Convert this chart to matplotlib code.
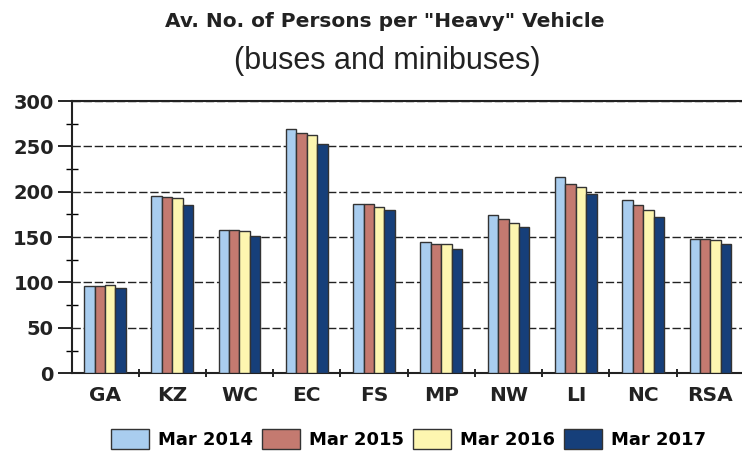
import matplotlib
matplotlib.use('Agg')
import matplotlib.pyplot as plt
import numpy as np
from matplotlib.ticker import MultipleLocator

plt.rcParams['font.family'] = ['DejaVu Sans']

# 数据
provinces = ['GA', 'KZ', 'WC', 'EC', 'FS', 'MP', 'NW', 'LI', 'NC', 'RSA']
series_labels = ['Mar 2014', 'Mar 2015', 'Mar 2016', 'Mar 2017']
mar2014 = [96, 195, 158, 269, 187, 145, 174, 216, 191, 148]
mar2015 = [96, 194, 158, 265, 186, 142, 170, 209, 185, 148]
mar2016 = [97, 193, 157, 263, 183, 142, 165, 205, 180, 147]
mar2017 = [94, 185, 151, 253, 180, 137, 161, 197, 172, 142]
colors = ['#a9cdef', '#c47a70', '#fdf6b0', '#163f7a']

fig = plt.figure(figsize=(7.42, 4.54), dpi=100)
ax = fig.add_axes([0.097, 0.178, 0.903, 0.5995])

x = np.arange(len(provinces))
w = 0.155
all_series = [mar2014, mar2015, mar2016, mar2017]
handles = []
for i, (vals, c, lab) in enumerate(zip(all_series, colors, series_labels)):
    b = ax.bar(x + (i - 1.5) * w, vals, w, color=c, edgecolor='#333333',
               linewidth=1.0, label=lab, zorder=3)
    handles.append(b)

ax.set_xlim(-0.49, 9.47)
ax.set_ylim(0, 300)
ax.yaxis.set_major_locator(MultipleLocator(50))
ax.yaxis.set_minor_locator(MultipleLocator(25))
ax.grid(axis='y', which='major', color='#222222', linestyle=(0, (6, 2)),
        linewidth=1.0, zorder=0)

ax.set_xticks(x)
ax.set_xticklabels(provinces, fontsize=14.5, fontweight='bold', color='#222222')
ax.set_xticks(x[:-1] + 0.5, minor=True)
ax.tick_params(axis='x', which='major', length=0, pad=9)
ax.tick_params(axis='x', which='minor', length=6, direction='inout', width=1.2)
ax.tick_params(axis='y', which='major', length=10, direction='out', width=1.2,
               labelsize=14, pad=3)
ax.tick_params(axis='y', which='minor', length=8, direction='inout', width=1.0)
for lbl in ax.get_yticklabels():
    lbl.set_fontweight('bold')
    lbl.set_color('#222222')

for s in ['top', 'left', 'bottom']:
    ax.spines[s].set_linewidth(1.5)
    ax.spines[s].set_color('#222222')
ax.spines['right'].set_visible(False)

fig.text(0.518, 0.952, 'Av. No. of Persons per "Heavy" Vehicle',
         ha='center', va='center', fontsize=14.5, fontweight='bold',
         color='#222222')
fig.text(0.522, 0.866, '(buses and minibuses)', ha='center', va='center',
         fontsize=22, color='#222222', family='Liberation Sans')

fig.legend(handles=handles, labels=series_labels, loc='center',
           bbox_to_anchor=(0.55, 0.033), ncol=4, frameon=False,
           prop={'weight': 'bold', 'size': 13}, handlelength=2.1,
           handleheight=1.4, columnspacing=0.5, handletextpad=0.5,
           borderpad=0.1)

fig.savefig('out.png', dpi=100)
